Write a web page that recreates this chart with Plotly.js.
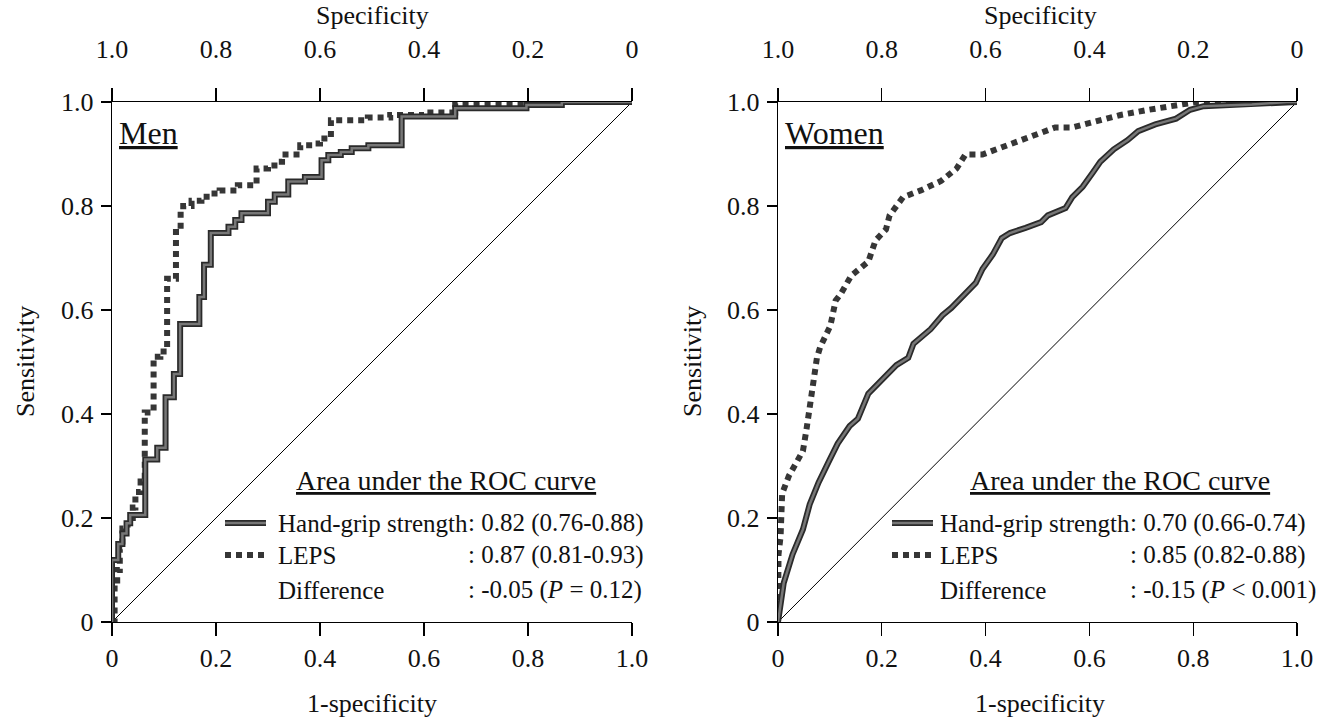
<!DOCTYPE html>
<html><head><meta charset="utf-8">
<script src="https://cdn.plot.ly/plotly-3.0.1.min.js"></script>
<style>html,body{margin:0;padding:0;background:#fff}</style>
</head><body><div id="chart" style="width:1324px;height:719px"></div>
<script>
// ---- tick labels ----
const fprTickVals = [0, 0.2, 0.4, 0.6, 0.8, 1];
const fprTickText = ['0', '0.2', '0.4', '0.6', '0.8', '1.0'];
const sensTickVals = [0, 0.2, 0.4, 0.6, 0.8, 1];
const sensTickText = ['0', '0.2', '0.4', '0.6', '0.8', '1.0'];
const specTickVals = [1, 0.8, 0.6, 0.4, 0.2, 0];
const specTickText = ['1.0', '0.8', '0.6', '0.4', '0.2', '0'];

// ---- Men (step curves: point = x of rise, y after rise) ----
const menGripFpr = [0, 0, 0.012, 0.02, 0.028, 0.035, 0.064, 0.087, 0.103, 0.119, 0.131, 0.168, 0.177, 0.19, 0.224, 0.237, 0.249, 0.30, 0.313, 0.339, 0.371, 0.403, 0.416, 0.44, 0.461, 0.493, 0.557, 0.66, 0.797, 0.865, 1.0];
const menGripTpr = [0, 0.119, 0.15, 0.17, 0.19, 0.206, 0.3125, 0.335, 0.432, 0.477, 0.573, 0.625, 0.687, 0.748, 0.76, 0.773, 0.786, 0.808, 0.822, 0.847, 0.856, 0.888, 0.898, 0.904, 0.911, 0.917, 0.972, 0.988, 0.994, 1.0, 1.0];
const menLepsFpr = [0, 0.005, 0.01, 0.015, 0.02, 0.03, 0.04, 0.045, 0.055, 0.063, 0.08, 0.093, 0.106, 0.123, 0.132, 0.137, 0.153, 0.172, 0.191, 0.207, 0.242, 0.278, 0.30, 0.32, 0.327, 0.362, 0.385, 0.40, 0.421, 0.492, 0.535, 0.60, 0.66, 0.80, 1.0];
const menLepsTpr = [0, 0.08, 0.1, 0.14, 0.18, 0.20, 0.22, 0.25, 0.27, 0.403, 0.51, 0.52, 0.66, 0.75, 0.79, 0.80, 0.81, 0.818, 0.824, 0.83, 0.84, 0.872, 0.878, 0.885, 0.899, 0.917, 0.92, 0.93, 0.965, 0.97, 0.975, 0.98, 0.997, 1.0, 1.0];

// ---- Women ----
const womenGripFpr = [0, 0.011, 0.028, 0.048, 0.061, 0.078, 0.098, 0.115, 0.138, 0.154, 0.174, 0.201, 0.228, 0.251, 0.261, 0.294, 0.317, 0.334, 0.367, 0.381, 0.394, 0.414, 0.431, 0.447, 0.477, 0.507, 0.52, 0.554, 0.567, 0.587, 0.607, 0.621, 0.647, 0.674, 0.694, 0.727, 0.767, 0.794, 0.82, 0.913, 0.98, 1.0];
const womenGripTpr = [0, 0.075, 0.13, 0.178, 0.226, 0.268, 0.309, 0.343, 0.377, 0.391, 0.439, 0.467, 0.494, 0.508, 0.535, 0.563, 0.59, 0.604, 0.638, 0.652, 0.679, 0.707, 0.738, 0.748, 0.758, 0.769, 0.782, 0.796, 0.817, 0.837, 0.865, 0.885, 0.909, 0.927, 0.944, 0.957, 0.968, 0.985, 0.992, 0.995, 1.0, 1.0];
const womenLepsFpr = [0, 0.001, 0.005, 0.008, 0.021, 0.035, 0.048, 0.055, 0.061, 0.068, 0.075, 0.081, 0.101, 0.111, 0.121, 0.141, 0.174, 0.188, 0.208, 0.215, 0.231, 0.241, 0.275, 0.314, 0.344, 0.361, 0.394, 0.434, 0.487, 0.534, 0.567, 0.614, 0.66, 0.714, 0.767, 0.807, 1.0];
const womenLepsTpr = [0, 0.13, 0.165, 0.247, 0.281, 0.309, 0.329, 0.371, 0.419, 0.474, 0.508, 0.528, 0.57, 0.618, 0.631, 0.666, 0.693, 0.734, 0.755, 0.782, 0.803, 0.817, 0.83, 0.848, 0.872, 0.899, 0.899, 0.913, 0.933, 0.951, 0.951, 0.964, 0.975, 0.985, 0.995, 1.0, 1.0];

const diagX = [0, 1];
const diagY = [0, 1];

// ---- legend texts ----
const legendHeader = 'Area under the ROC curve';
const rowLabels = ['Hand-grip strength', 'LEPS', 'Difference'];
const menValues = [': 0.82 (0.76-0.88)', ': 0.87 (0.81-0.93)', ': -0.05 (<i>P</i> = 0.12)'];
const womenValues = [': 0.70 (0.66-0.74)', ': 0.85 (0.82-0.88)', ': -0.15 (<i>P</i> < 0.001)'];

const W = 1324, H = 719;
const FONT = 'Liberation Serif, Times New Roman, serif';
const px = v => v / W;
const py = v => 1 - v / H;
const ROW_SIZE = 25;

const ctx = document.createElement('canvas').getContext('2d');
ctx.font = ROW_SIZE + 'px "Liberation Serif"';
const labelWidth = ctx.measureText(rowLabels[0]).width;

const DARK = '#2a2a2a', MID = '#777777';
function solid(x, y, xa, ya, shape) {
  return [
    {x, y, xaxis: xa, yaxis: ya, mode: 'lines', line: {color: DARK, width: 6, shape}, hoverinfo: 'skip'},
    {x, y, xaxis: xa, yaxis: ya, mode: 'lines', line: {color: MID, width: 2.5, shape}, hoverinfo: 'skip'}
  ];
}
function dotted(x, y, xa, ya, shape) {
  return [{x, y, xaxis: xa, yaxis: ya, mode: 'lines', line: {color: '#363636', width: 6, dash: '6px,5px', shape}, hoverinfo: 'skip'}];
}

const data = [
  {x: diagX, y: diagY, xaxis: 'x', yaxis: 'y', mode: 'lines', line: {color: '#000', width: 1}, hoverinfo: 'skip'},
  {x: diagX, y: diagY, xaxis: 'x2', yaxis: 'y2', mode: 'lines', line: {color: '#000', width: 1}, hoverinfo: 'skip'},
  // invisible anchors so the top specificity axes are drawn
  {x: specTickVals, y: specTickVals, xaxis: 'x3', yaxis: 'y', mode: 'markers', marker: {opacity: 0}, hoverinfo: 'skip'},
  {x: specTickVals, y: specTickVals, xaxis: 'x4', yaxis: 'y2', mode: 'markers', marker: {opacity: 0}, hoverinfo: 'skip'},
  ...dotted(menLepsFpr, menLepsTpr, 'x', 'y', 'hv'),
  ...solid(menGripFpr, menGripTpr, 'x', 'y', 'hv'),
  ...dotted(womenLepsFpr, womenLepsTpr, 'x2', 'y2', 'linear'),
  ...solid(womenGripFpr, womenGripTpr, 'x2', 'y2', 'linear')
];

const tickFont = {family: FONT, size: 26, color: '#111'};
const yDom = [1 - 622 / H, 1 - 102 / H];
function bottomAxis(dom, anchor) {
  return {domain: dom, anchor, range: [0, 1], tickvals: fprTickVals, ticktext: fprTickText,
    ticks: 'outside', ticklen: 13, tickcolor: '#000', tickwidth: 1.2, showline: true, linecolor: '#000', linewidth: 1.2,
    mirror: 'allticks',
    showgrid: false, zeroline: false, tickfont: tickFont, ticklabelstandoff: 0, fixedrange: true};
}
function topAxis(over, anchor) {
  return {overlaying: over, anchor, side: 'top', range: [1, 0], tickvals: specTickVals, ticktext: specTickText,
    ticks: '', showline: false,
    showgrid: false, zeroline: false, tickfont: tickFont, ticklabelstandoff: 38, fixedrange: true};
}
function leftAxis(anchor) {
  return {domain: yDom, anchor, range: [0, 1], tickvals: sensTickVals, ticktext: sensTickText,
    ticks: 'outside', ticklen: 10, tickcolor: '#000', tickwidth: 1.2, showline: true, linecolor: '#000', linewidth: 1.2,
    showgrid: false, zeroline: false, tickfont: tickFont, ticklabelstandoff: 2, fixedrange: true};
}

const annotations = [];
const shapes = [];
function addPanel(cfg) {
  const base = {xref: 'paper', yref: 'paper', showarrow: false};
  const f = (size, extra) => Object.assign({family: FONT, size, color: '#111'}, extra || {});
  annotations.push({...base, x: px(cfg.cx), y: py(16), text: 'Specificity', xanchor: 'center', yanchor: 'middle', font: f(26)});
  annotations.push({...base, x: px(cfg.cx), y: py(703), text: '1-specificity', xanchor: 'center', yanchor: 'middle', font: f(26)});
  annotations.push({...base, x: px(cfg.ytx), y: py(362), text: 'Sensitivity', textangle: -90, xanchor: 'center', yanchor: 'middle', font: f(26)});
  annotations.push({...base, x: px(cfg.x0 + 5), y: py(133), text: cfg.title, xanchor: 'left', yanchor: 'middle', font: f(32, {lineposition: 'under'})});
  annotations.push({...base, x: px(cfg.hx), y: py(480), text: legendHeader, xanchor: 'center', yanchor: 'middle', font: f(28, {lineposition: 'under'})});
  const rowsY = [523, 555, 590];
  const vx = cfg.tx + labelWidth;
  for (let i = 0; i < 3; i++) {
    annotations.push({...base, x: px(cfg.tx), y: py(rowsY[i]), text: rowLabels[i], xanchor: 'left', yanchor: 'middle', font: f(ROW_SIZE)});
    annotations.push({...base, x: px(vx), y: py(rowsY[i]), text: cfg.values[i], xanchor: 'left', yanchor: 'middle', font: f(ROW_SIZE)});
  }
  shapes.push({type: 'line', xref: 'paper', yref: 'paper', x0: px(cfg.sx0), x1: px(cfg.sx1), y0: py(rowsY[0]), y1: py(rowsY[0]), line: {color: DARK, width: 6}});
  shapes.push({type: 'line', xref: 'paper', yref: 'paper', x0: px(cfg.sx0), x1: px(cfg.sx1), y0: py(rowsY[0]), y1: py(rowsY[0]), line: {color: MID, width: 2.5}});
  shapes.push({type: 'line', xref: 'paper', yref: 'paper', x0: px(cfg.sx0), x1: px(cfg.sx1), y0: py(rowsY[1]), y1: py(rowsY[1]), line: {color: '#363636', width: 6, dash: '6px,5px'}});
}
addPanel({title: 'Men', x0: 112, cx: 372, ytx: 25, hx: 446, tx: 276, sx0: 225, sx1: 266, values: menValues});
addPanel({title: 'Women', x0: 778, cx: 1040, ytx: 692, hx: 1120, tx: 938, sx0: 892, sx1: 933, values: womenValues});

const layout = {
  width: W, height: H, margin: {l: 0, r: 0, t: 0, b: 0},
  paper_bgcolor: '#fff', plot_bgcolor: 'rgba(0,0,0,0)', showlegend: false,
  xaxis: bottomAxis([112 / W, 632 / W], 'y'),
  xaxis2: bottomAxis([778 / W, 1297 / W], 'y2'),
  xaxis3: topAxis('x', 'y'),
  xaxis4: topAxis('x2', 'y2'),
  yaxis: leftAxis('x'),
  yaxis2: leftAxis('x2'),
  annotations, shapes
};
Plotly.newPlot('chart', data, layout, {displayModeBar: false, staticPlot: true});
</script></body></html>
